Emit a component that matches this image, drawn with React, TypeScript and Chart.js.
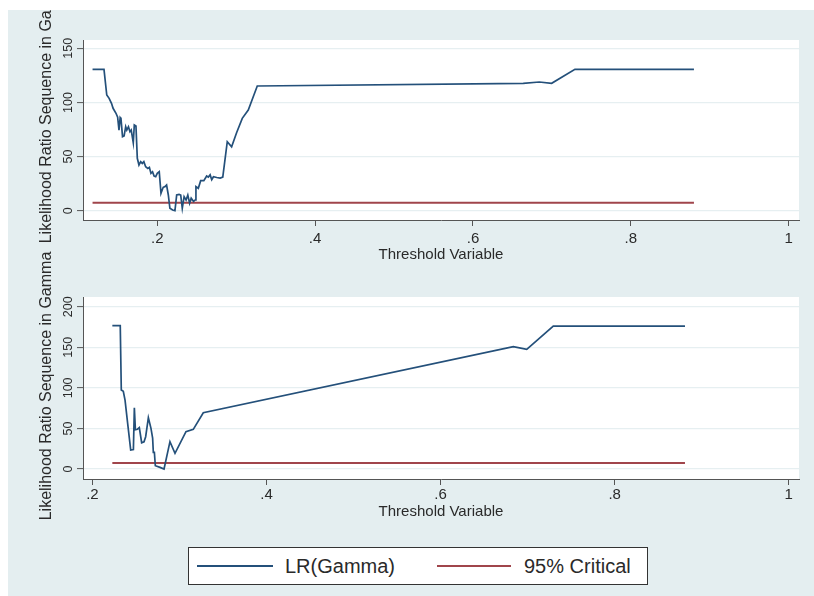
import React, { useEffect, useRef } from 'react';
import { Chart, registerables } from 'chart.js';

Chart.register(...registerables);

// ---- data ----
const topThreshold = [
  0.118, 0.1325, 0.136, 0.139, 0.142, 0.144, 0.1477, 0.1498, 0.1515, 0.153,
  0.154, 0.156, 0.158, 0.16, 0.1614, 0.1635, 0.1654, 0.167, 0.1696, 0.1709,
  0.173, 0.1747, 0.1768, 0.179, 0.181, 0.183, 0.1853, 0.188, 0.19, 0.192,
  0.194, 0.196, 0.198, 0.2, 0.2025, 0.2047, 0.2075, 0.2097, 0.2118, 0.214,
  0.216, 0.2195, 0.2224, 0.2246, 0.2276, 0.2297, 0.2317, 0.234, 0.2365, 0.2387,
  0.241, 0.243, 0.246, 0.248, 0.249, 0.252, 0.255, 0.259, 0.2626, 0.2647,
  0.267, 0.269, 0.2712, 0.2754, 0.2797, 0.283, 0.2887, 0.2942, 0.3005, 0.3077,
  0.3153, 0.3267, 0.6637, 0.684, 0.6997, 0.7292, 0.88,
];
const topLR = [
  130.6, 130.6, 106.9, 103.8, 99.2, 94.6, 90, 86.3, 74.5, 86,
  85, 68.4, 69, 77.6, 74.5, 77.6, 73, 74.5, 62.8, 79.2,
  78.2, 48.4, 42.2, 45.3, 43.7, 45.3, 40.6, 39.1, 40, 34.5,
  36, 32, 31.4, 34.5, 36, 16.1, 21.6, 22.2, 23.7, 14.5,
  2.2, 0.7, 0, 14.5, 15.1, 14.5, 2.2, 13, 9.9, 14.5,
  7, 11.6, 8.6, 9.9, 22.2, 20.7, 27.7, 27.7, 32, 31,
  33.1, 28.6, 31.4, 30.7, 30.1, 31, 63.7, 59.1, 72, 85.3,
  93, 115.2, 117.7, 118.9, 117.7, 130.6, 130.6,
];
const topCritical = 7.35;

const bottomThreshold = [
  0.2229, 0.232, 0.2332, 0.2355, 0.2375, 0.2405, 0.244, 0.2471, 0.2482, 0.2494,
  0.2517, 0.2539, 0.2566, 0.2593, 0.2612, 0.2643, 0.2673, 0.2692, 0.27, 0.2712,
  0.2723, 0.2777, 0.2823, 0.2891, 0.2949, 0.3075, 0.3159, 0.3274, 0.6836, 0.699,
  0.7295, 0.8808,
];
const bottomLR = [
  176.6, 176.6, 97.3, 95.7, 85, 56.3, 23.4, 24, 75.6, 48.5,
  49, 51, 32.4, 33.5, 39.8, 63.2, 50.1, 38, 20.6, 20.6,
  4.1, 2, 0, 33.7, 19.3, 46, 48.9, 69.4, 150.7, 147.5,
  176.2, 176.2,
];
const bottomCritical = 7.35;

const xTickValues = [0.2, 0.4, 0.6, 0.8, 1];
const xTickLabels = ['.2', '.4', '.6', '.8', '1'];
const topYTicks = [0, 50, 100, 150];
const bottomYTicks = [0, 50, 100, 150, 200];
const xTitle = 'Threshold Variable';
const yTitle = 'Likelihood Ratio Sequence in Gamma';
const seriesLabels = ['LR(Gamma)', '95% Critical'];

// ---- styles ----
const BLUE = '#24507a';
const RED = '#a0454b';
const BG = '#e4eef0';
const GRID = '#e6eff1';
const AXIS = '#555555';
const TEXT = '#2a2a2a';
const FONT = '"Liberation Sans", Arial, Helvetica, sans-serif';

Chart.defaults.font.family = FONT;

type PanelProps = {
  top: number;
  height: number;
  xs: number[];
  ys: number[];
  crit: number;
  yTicks: number[];
  xMin: number;
  xMax: number;
  yMin: number;
  yMax: number;
  padTop: number;
  xHeight: number;
  tickPad: number;
  titlePad: number;
  yTitleCenter: number;
};

function Panel(p: PanelProps) {
  const ref = useRef<HTMLCanvasElement | null>(null);
  useEffect(() => {
    if (!ref.current) return;
    const overlay = {
      id: 'stataOverlay',
      beforeDraw(chart: any) {
        const { ctx, chartArea } = chart;
        ctx.save();
        ctx.fillStyle = '#ffffff';
        ctx.fillRect(chartArea.left, chartArea.top, chartArea.right - chartArea.left, chartArea.bottom - chartArea.top);
        ctx.restore();
      },
      afterDraw(chart: any) {
        const { ctx } = chart;
        const ys = chart.scales.y;
        ctx.save();
        ctx.fillStyle = TEXT;
        ctx.textAlign = 'center';
        ctx.textBaseline = 'middle';
        ctx.font = `12.5px ${FONT}`;
        p.yTicks.forEach((v) => {
          const py = ys.getPixelForValue(v);
          ctx.save();
          ctx.translate(61, py);
          ctx.rotate(-Math.PI / 2);
          ctx.fillText(String(v), 0, 0);
          ctx.restore();
        });
        ctx.font = `16px ${FONT}`;
        ctx.save();
        ctx.translate(39, p.yTitleCenter);
        ctx.rotate(-Math.PI / 2);
        ctx.fillText(yTitle, 0, 0);
        ctx.restore();
        ctx.restore();
      },
    };
    const chart = new Chart(ref.current, {
      type: 'line',
      data: {
        datasets: [
          {
            label: seriesLabels[0],
            data: p.xs.map((x, i) => ({ x, y: p.ys[i] })),
            borderColor: BLUE,
            borderWidth: 1.7,
            pointRadius: 0,
            tension: 0,
          },
          {
            label: seriesLabels[1],
            data: [
              { x: p.xs[0], y: p.crit },
              { x: p.xs[p.xs.length - 1], y: p.crit },
            ],
            borderColor: RED,
            borderWidth: 2,
            pointRadius: 0,
            tension: 0,
          },
        ],
      },
      options: {
        animation: false,
        responsive: false,
        maintainAspectRatio: false,
        layout: { padding: { left: 0, right: 15, top: p.padTop, bottom: 0 } },
        plugins: { legend: { display: false }, tooltip: { enabled: false } },
        scales: {
          x: {
            type: 'linear',
            min: p.xMin,
            max: p.xMax,
            afterBuildTicks: (s: any) => {
              s.ticks = xTickValues.map((v) => ({ value: v }));
            },
            afterFit: (s: any) => {
              s.height = p.xHeight;
            },
            ticks: {
              autoSkip: false,
              maxRotation: 0,
              minRotation: 0,
              padding: p.tickPad,
              color: TEXT,
              font: { size: 15 },
              callback: (_v: any, i: number) => xTickLabels[i],
            },
            grid: { drawOnChartArea: false, drawTicks: true, tickLength: 6, tickColor: AXIS, tickWidth: 1 },
            border: { display: true, color: AXIS, width: 1 },
            title: {
              display: true,
              text: xTitle,
              color: TEXT,
              font: { size: 15 },
              padding: { top: 0, bottom: p.titlePad },
            },
          },
          y: {
            type: 'linear',
            min: p.yMin,
            max: p.yMax,
            afterBuildTicks: (s: any) => {
              s.ticks = p.yTicks.map((v) => ({ value: v }));
            },
            afterFit: (s: any) => {
              s.width = 75;
            },
            ticks: { display: false },
            grid: { color: GRID, lineWidth: 1.2, drawTicks: true, tickLength: 6, tickColor: AXIS, tickWidth: 1 },
            border: { display: true, color: AXIS, width: 1 },
          },
        },
      } as any,
      plugins: [overlay],
    });
    return () => chart.destroy();
  }, []);
  return (
    <canvas
      ref={ref}
      width={806}
      height={p.height}
      style={{ position: 'absolute', left: 0, top: p.top, width: 806, height: p.height, display: 'block' }}
    />
  );
}

export default function App() {
  return (
    <div
      style={{
        position: 'absolute',
        left: 8,
        top: 10,
        width: 806,
        height: 586,
        background: BG,
        overflow: 'hidden',
        fontFamily: FONT,
      }}
    >
      <Panel
        top={0}
        height={264}
        xs={topThreshold}
        ys={topLR}
        crit={topCritical}
        yTicks={topYTicks}
        xMin={0.1059}
        xMax={1.0131}
        yMin={-8.6}
        yMax={157.7}
        padTop={30}
        xHeight={54}
        tickPad={4}
        titlePad={10}
        yTitleCenter={99}
      />
      <Panel
        top={204}
        height={316}
        xs={bottomThreshold}
        ys={bottomLR}
        crit={bottomCritical}
        yTicks={bottomYTicks}
        xMin={0.1892}
        xMax={1.0118}
        yMin={-12.3}
        yMax={212}
        padTop={83}
        xHeight={51}
        tickPad={1}
        titlePad={9}
        yTitleCenter={172}
      />
      <div
        style={{
          position: 'absolute',
          left: 180,
          top: 537,
          width: 458,
          height: 36,
          background: '#ffffff',
          border: '1px solid #333',
          color: TEXT,
          fontSize: 20,
        }}
      >
        <div style={{ position: 'absolute', left: 8, top: 17, width: 76, height: 2, background: BLUE }} />
        <span style={{ position: 'absolute', left: 96, top: 5, lineHeight: '26px', whiteSpace: 'nowrap' }}>{seriesLabels[0]}</span>
        <div style={{ position: 'absolute', left: 248, top: 17, width: 74, height: 2, background: RED }} />
        <span style={{ position: 'absolute', left: 335, top: 5, lineHeight: '26px', whiteSpace: 'nowrap' }}>{seriesLabels[1]}</span>
      </div>
    </div>
  );
}
